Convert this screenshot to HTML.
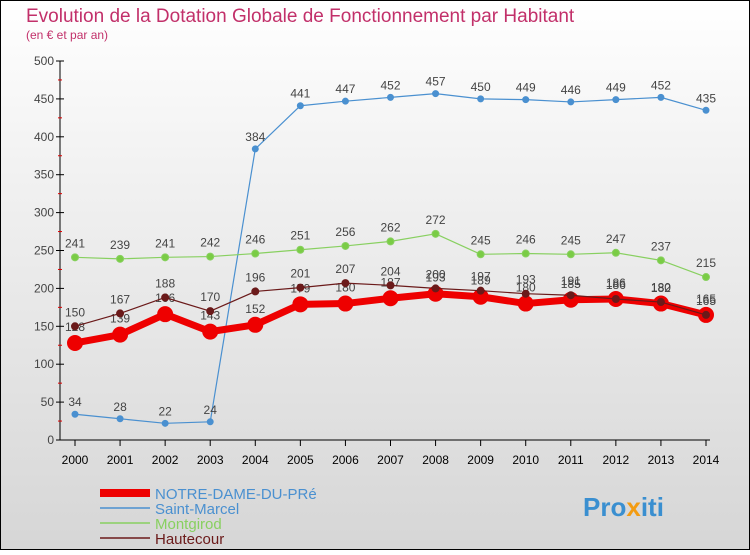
<!DOCTYPE html>
<html><head><meta charset="utf-8"><style>
body{margin:0;width:750px;height:550px;overflow:hidden;font-family:"Liberation Sans",sans-serif}
</style></head><body>
<svg id="c" width="750" height="550" xmlns="http://www.w3.org/2000/svg">
<defs><linearGradient id="bg" x1="0" y1="0" x2="0" y2="1"><stop offset="0" stop-color="#ffffff"/><stop offset="0.3" stop-color="#f2f2f2"/><stop offset="1" stop-color="#d6d6d6"/></linearGradient></defs>
<rect x="0.5" y="0.5" width="749" height="549" fill="url(#bg)" stroke="#000"/>
<text x="26" y="22" font-size="19" fill="#c2306a">Evolution de la Dotation Globale de Fonctionnement par Habitant</text>
<text x="26" y="39" font-size="12" fill="#c2306a">(en € et par an)</text>
<g id="axes"></g><g id="series"></g><g id="legend"></g>
<text x="583" y="516" font-size="26" font-weight="bold" fill="#3a8fd0">Pro<tspan fill="#f39c12">x</tspan>iti</text>
</svg>
<script>
const years=[2000,2001,2002,2003,2004,2005,2006,2007,2008,2009,2010,2011,2012,2013,2014];
const yTicks=[0,50,100,150,200,250,300,350,400,450,500];
const notre=[128,139,166,143,152,179,180,187,193,189,180,185,186,180,165];
const stMarcel=[34,28,22,24,384,441,447,452,457,450,449,446,449,452,435];
const montgirod=[241,239,241,242,246,251,256,262,272,245,246,245,247,237,215];
const hautecour=[150,167,188,170,196,201,207,204,200,197,193,191,186,182,165];
const NS="http://www.w3.org/2000/svg";
const X=i=>75+i*(706-75)/14, Y=v=>440-v*0.758;
function mk(t,a,p){const e=document.createElementNS(NS,t);for(const k in a)e.setAttribute(k,a[k]);p.appendChild(e);return e;}
const ax=document.getElementById('axes');
let l=mk('line',{x1:60,y1:61,x2:60,y2:440,stroke:'#000'},ax);


l=mk('line',{x1:60,y1:440,x2:710,y2:440,stroke:'#000'},ax);


yTicks.forEach(v=>{
 mk('line',{x1:56,y1:Y(v),x2:64,y2:Y(v),stroke:'#000'},ax);
 if(v<500)mk('line',{x1:58,y1:Y(v+25),x2:62,y2:Y(v+25),stroke:'#d00'},ax);
 const t=mk('text',{x:54,y:Y(v)+4,'font-size':12,'text-anchor':'end',fill:'#444'},ax);t.textContent=v;
 
 
});
years.forEach((y,i)=>{
 mk('line',{x1:X(i),y1:440,x2:X(i),y2:446,stroke:'#000'},ax);
 const t=mk('text',{x:X(i),y:464,'font-size':12,'text-anchor':'middle',fill:'#000'},ax);t.textContent=y;
 
 
});
const sg=document.getElementById('series');
function series(d,name,color,w,r,dot,lab){
 const g=mk('g',{},sg);
 
 
 mk('polyline',{points:d.map((v,i)=>X(i)+','+Y(v)).join(' '),fill:'none',stroke:color,'stroke-width':w,'stroke-linejoin':'round'},g);
 d.forEach((v,i)=>{
  const c=mk('circle',{cx:X(i),cy:Y(v),r:r,fill:dot,stroke:color,'stroke-width':1},g);
  
  
  const t=mk('text',{x:X(i),y:Y(v)-lab,'font-size':12,'text-anchor':'middle',fill:'#444'},g);t.textContent=v;
 });
}
series(stMarcel,'series-saint-marcel','#4a90d0',1.2,3,'#4a90d0',8);
series(montgirod,'series-montgirod','#88d060',1.2,3.5,'#7acc45',10);
series(notre,'series-notre-dame','#ee0000',7,7.5,'#ee0000',12);
series(hautecour,'series-hautecour','#6b1a1a',1.2,3.5,'#6b1a1a',10);
const lg=document.getElementById('legend');
[['NOTRE-DAME-DU-PRé','#ee0000',8],['Saint-Marcel','#4a90d0',1.5],['Montgirod','#88d060',1.5],['Hautecour','#6b1a1a',1.5]].forEach((s,i)=>{
 const g=mk('g',{},lg);
 
 
 const y=493+i*15;
 mk('line',{x1:100,y1:y,x2:150,y2:y,stroke:s[1],'stroke-width':s[2]},g);
 const t=mk('text',{x:155,y:y+6,'font-size':15,fill:s[1]==='#ee0000'?'#4a90d0':s[1]},g);t.textContent=s[0];
});
</script>
</body></html>
